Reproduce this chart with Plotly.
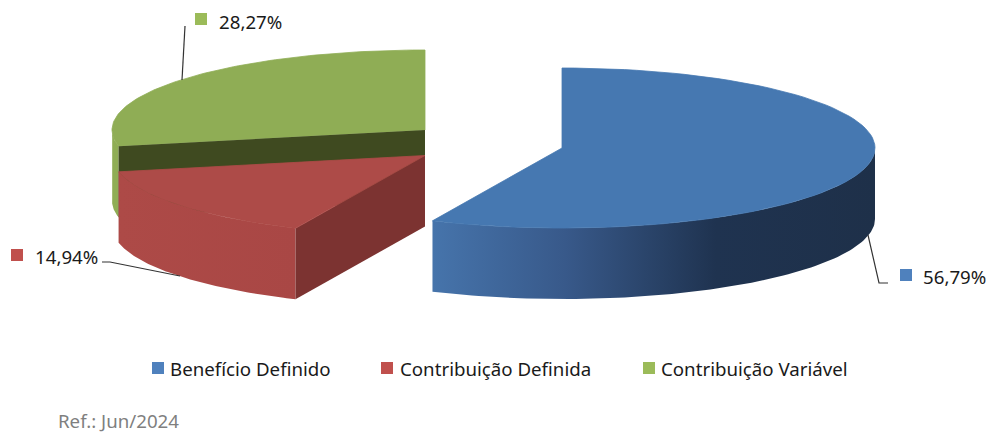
import numpy as np
import plotly.graph_objects as go

categories = ["Benefício Definido", "Contribuição Definida", "Contribuição Variável"]
shares = [56.79, 14.94, 28.27]
share_labels = ["56,79%", "14,94%", "28,27%"]
note = "Ref.: Jun/2024"

legend_colors = ["#4f81bd", "#c0504d", "#9bbb59"]
top_colors = ["#4678b1", "#ad4b48", "#8fad55"]

# pie geometry in canvas pixels
RX, RY, DEPTH = 313, 80, 71
apex = [(562, 148), (425, 155.5), (425, 130)]
FONT = "Noto Sans"

# clockwise angles from 12 o'clock, derived from the shares
edges = np.concatenate([[0], np.cumsum(shares)]) * 360 / sum(shares)


def arc(i, a0, a1, dy=0, n=90):
    t = np.radians(np.linspace(a0, a1, n))
    cx, cy = apex[i]
    return cx + RX * np.sin(t), cy - RY * np.cos(t) + dy


def wall(i, a0, a1):
    x0, y0 = arc(i, a0, a1)
    x1, y1 = arc(i, a0, a1, DEPTH)
    return np.r_[x0, x1[::-1], x0[0]], np.r_[y0, y1[::-1], y0[0]]


def top(i):
    x, y = arc(i, edges[i], edges[i + 1])
    cx, cy = apex[i]
    return np.r_[cx, x, cx], np.r_[cy, y, cy]


def face(i, a):
    x, y = arc(i, a, a, n=1)
    cx, cy = apex[i]
    return [cx, x[0], x[0], cx, cx], [cy, y[0], y[0] + DEPTH, cy + DEPTH, cy]


fig = go.Figure()


def poly(xy, color=None, gradient=None, edge=0):
    kw = dict(fillgradient=gradient) if gradient else dict(fillcolor=color)
    fig.add_trace(go.Scatter(x=xy[0], y=xy[1], mode="lines", fill="toself",
                             line=dict(width=edge, color=color), hoverinfo="skip",
                             showlegend=False, **kw))


# green slice: outer wall, top, cut face
poly(wall(2, edges[2], 272), top_colors[2])
poly(top(2), top_colors[2], edge=0.8)
poly(face(2, edges[2]), "#3f4a20")
# red slice: outer wall, top, cut face
poly(wall(1, edges[1], edges[2]),
     gradient=dict(type="horizontal", colorscale=[[0, "#ad4a47"], [1, "#a94745"]]))
poly(face(1, edges[1]), "#7c3331")
poly(top(1), top_colors[1], edge=0.8)
# blue slice: outer wall, top
poly(wall(0, 90, edges[1]),
     gradient=dict(type="horizontal",
                   colorscale=[[0, "#4674ab"], [0.3, "#38598a"], [0.64, "#1f3350"], [1, "#1e3049"]]))
poly(top(0), top_colors[0], edge=0.8)

# leader lines
for lx, ly in [([868, 879, 888], [235, 283, 283]),
               ([102, 110, 180], [262, 262, 276]),
               ([185, 182], [26, 80])]:
    fig.add_trace(go.Scatter(x=lx, y=ly, mode="lines", line=dict(color="#333333", width=1.2),
                             hoverinfo="skip", showlegend=False))

# keys and texts
label_sq = [(906, 275), (17, 255), (201, 19)]
label_tx = [(923, 276), (35, 256), (219, 21)]
legend_sq = [(158, 368), (387, 368), (649, 368)]
legend_tx = [(170, 368), (400, 368), (661, 368)]

for (pos, color) in zip(label_sq + legend_sq, legend_colors * 2):
    fig.add_trace(go.Scatter(x=[pos[0]], y=[pos[1]], mode="markers",
                             marker=dict(symbol="square", size=12, color=color),
                             hoverinfo="skip", showlegend=False))

ann = []
for (pos, text) in zip(label_tx + legend_tx, share_labels + categories):
    ann.append(dict(x=pos[0], y=pos[1], text=text, showarrow=False, xanchor="left", yanchor="middle",
                    xshift=-2, font=dict(family=FONT, size=18.7, color="#1a1a1a")))
ann.append(dict(x=58, y=420, text=note, showarrow=False, xanchor="left", yanchor="middle",
                xshift=-2, font=dict(family=FONT, size=18.7, color="#7f7f7f")))

fig.update_layout(
    width=988, height=432, margin=dict(l=0, r=0, t=0, b=0),
    paper_bgcolor="white", plot_bgcolor="white", showlegend=False, annotations=ann,
    xaxis=dict(range=[0, 988], visible=False),
    yaxis=dict(range=[432, 0], visible=False),
)
fig.write_html("out.html", config=dict(displayModeBar=False),
               post_script="document.body.style.margin='0';document.body.style.overflow='hidden';")
